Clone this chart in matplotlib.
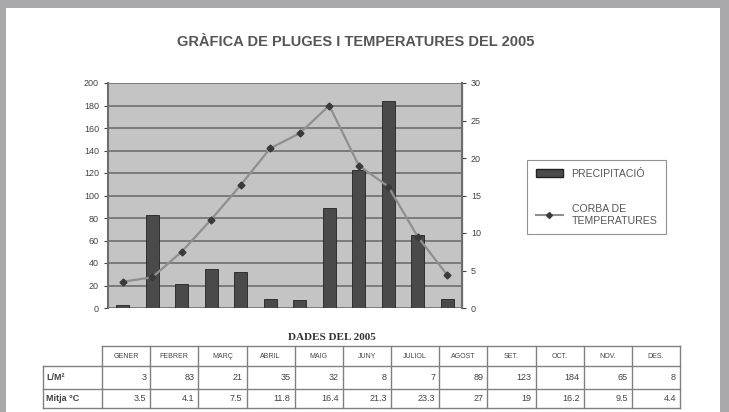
import matplotlib.pyplot as plt
from matplotlib.patches import Rectangle
from matplotlib.lines import Line2D

months = ["GENER", "FEBRER", "MARÇ", "ABRIL", "MAIG", "JUNY",
          "JULIOL", "AGOST", "SET.", "OCT.", "NOV.", "DES."]
rain = [3, 83, 21, 35, 32, 8, 7, 89, 123, 184, 65, 8]
temp = [3.5, 4.1, 7.5, 11.8, 16.4, 21.3, 23.3, 27, 19, 16.2, 9.5, 4.4]
rain_ticks = [0, 20, 40, 60, 80, 100, 120, 140, 160, 180, 200]
temp_ticks = [0, 5, 10, 15, 20, 25, 30]
row_labels = ["L/M²", "Mitja °C"]

W, H = 729, 412
fig = plt.figure(figsize=(W / 100, H / 100), dpi=100, facecolor="#a9a9ab")
plt.rcParams["font.family"] = ["Liberation Sans", "DejaVu Sans"]


def fx(px):
    return px / W


def fy(py):
    return 1 - py / H


# white page inside the grey scan frame
fig.patches.append(Rectangle((fx(6), 0), fx(714), fy(8), transform=fig.transFigure,
                             facecolor="white", edgecolor="none", zorder=-5))

ax = fig.add_axes([fx(108), fy(308), fx(462 - 108), fy(83) - fy(308)])
ax.set_facecolor("#c4c4c4")
x = list(range(len(months)))
ax.bar(x, rain, width=0.45, color="#4a4a4a", edgecolor="#222222", linewidth=0.6, zorder=3)
ax.set_ylim(0, 200)
ax.set_xlim(-0.5, 11.5)
ax.set_yticks(rain_ticks)
ax.set_xticks([])
ax.yaxis.grid(True, color="#6e6e6e", linewidth=1.2, zorder=0)
ax.set_axisbelow(True)
for s in ["top", "bottom"]:
    ax.spines[s].set_visible(False)
ax.spines["left"].set_color("#6e6e6e")
ax.spines["left"].set_linewidth(1.5)
ax.tick_params(axis="y", labelsize=6.5, colors="#444444", length=3, width=0.8)

ax2 = ax.twinx()
ax2.plot(x, temp, color="#8f8f8f", linewidth=1.6, marker="D", markersize=3.5,
         markerfacecolor="#3a3a3a", markeredgecolor="#3a3a3a", zorder=4)
ax2.set_ylim(0, 30)
ax2.set_yticks(temp_ticks)
for s in ["top", "bottom", "left"]:
    ax2.spines[s].set_visible(False)
ax2.spines["right"].set_color("#6e6e6e")
ax2.spines["right"].set_linewidth(1.5)
ax2.tick_params(axis="y", labelsize=6.5, colors="#444444", length=3, width=0.8)

fig.text(fx(356), fy(42), "GRÀFICA DE PLUGES I TEMPERATURES DEL 2005", ha="center",
         va="center", fontsize=10.5, fontweight="bold", color="#555555")

handles = [Rectangle((0, 0), 1, 1, facecolor="#4a4a4a", edgecolor="#222222"),
           Line2D([], [], color="#8f8f8f", marker="D", markersize=3,
                  markerfacecolor="#3a3a3a", markeredgecolor="#3a3a3a")]
leg = fig.legend(handles, ["PRECIPITACIÓ", "CORBA DE\nTEMPERATURES"],
                 loc="upper left", bbox_to_anchor=(fx(522), fy(155)),
                 fontsize=7.6, frameon=True, fancybox=False, labelspacing=2.4,
                 handlelength=2.6, borderpad=0.8, labelcolor="#555555")
leg.get_frame().set_edgecolor("#777777")
leg.get_frame().set_linewidth(0.8)

# data table
fig.text(fx(332), fy(337), "DADES DEL 2005", ha="center", va="center", fontsize=8,
         fontweight="bold", family="Liberation Serif", color="#333333")

tab_left, tab_right = 102, 680
label_left = 43
col_w = (tab_right - tab_left) / len(months)
rows_y = [346, 366, 389, 408]
lc = "#808080"
line_kw = dict(transform=fig.transFigure, color=lc, linewidth=1.0)


def hline(x0, x1, y):
    fig.add_artist(Line2D([fx(x0), fx(x1)], [fy(y), fy(y)], **line_kw))


def vline(xp, y0, y1):
    fig.add_artist(Line2D([fx(xp), fx(xp)], [fy(y0), fy(y1)], **line_kw))


hline(tab_left, tab_right, rows_y[0])
for y in rows_y[1:]:
    hline(label_left, tab_right, y)
vline(label_left, rows_y[1], rows_y[3])
for i in range(len(months) + 1):
    vline(tab_left + i * col_w, rows_y[0], rows_y[3])

for i, m in enumerate(months):
    fig.text(fx(tab_left + (i + 0.5) * col_w), fy((rows_y[0] + rows_y[1]) / 2), m,
             ha="center", va="center", fontsize=5, color="#444444")
    fig.text(fx(tab_left + (i + 1) * col_w - 4), fy((rows_y[1] + rows_y[2]) / 2),
             f"{rain[i]}", ha="right", va="center", fontsize=6.5, color="#444444")
    fig.text(fx(tab_left + (i + 1) * col_w - 4), fy((rows_y[2] + rows_y[3]) / 2),
             f"{temp[i]:g}", ha="right", va="center", fontsize=6.5, color="#444444")

for j, lab in enumerate(row_labels):
    fig.text(fx(label_left + 3), fy((rows_y[j + 1] + rows_y[j + 2]) / 2), lab,
             ha="left", va="center", fontsize=6.5, fontweight="bold", color="#444444")

fig.savefig("out.png", dpi=100, facecolor=fig.get_facecolor())
